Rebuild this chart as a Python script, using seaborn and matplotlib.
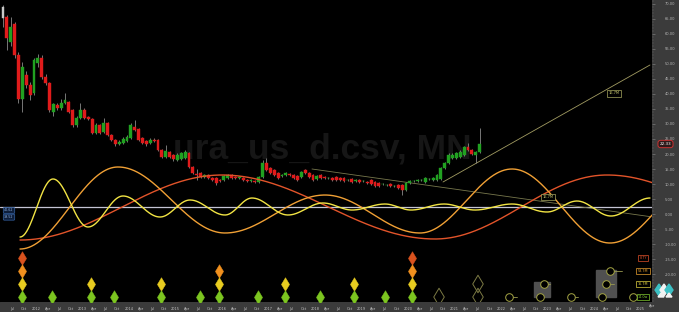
import numpy as np
import pandas as pd
import matplotlib
matplotlib.use("Agg")
import matplotlib.pyplot as plt
import seaborn as sns
from matplotlib.patches import Rectangle, Polygon

# ---------------- data ----------------
candle_start = 2011.29          # first monthly candle (Apr 2011), decimal years
opens = [69.0, 65.7, 57.3, 63.3, 53.0, 38.3, 46.3, 43.0, 40.3, 50.3, 52.0, 45.7, 43.7, 34.0, 36.3, 35.3,
         37.0, 37.3, 34.7, 29.7, 32.0, 34.7, 32.3, 31.7, 27.0, 29.7, 27.3, 30.3, 26.3, 24.7, 23.3, 23.7,
         24.3, 25.3, 29.0, 28.3, 25.3, 24.3, 23.7, 24.7, 24.7, 21.3, 19.0, 20.7, 19.7, 18.0, 18.3, 18.7,
         20.3, 15.7, 13.3, 13.7, 12.3, 13.0, 12.0, 12.0, 11.3, 11.3, 12.0, 13.0, 12.3, 12.0, 12.0, 11.3,
         11.0, 11.0, 10.7, 12.3, 17.0, 15.3, 14.7, 13.7, 12.7, 13.0, 13.3, 13.0, 12.7, 12.3, 14.7, 13.7,
         13.0, 11.7, 13.0, 12.3, 12.0, 12.0, 12.3, 12.0, 12.0, 11.3, 11.7, 11.0, 11.3, 11.0, 10.7, 11.3,
         10.7, 10.3, 10.0, 9.7, 10.0, 9.3, 9.7, 9.7, 8.0, 10.3, 11.0, 11.0, 11.3, 10.7, 11.7, 11.3,
         11.3, 11.7, 15.3, 17.0, 18.7, 18.7, 19.0, 19.7, 22.3, 21.3, 19.7, 20.7]
closes = [65.3, 58.7, 62.3, 53.0, 38.3, 49.0, 43.0, 39.7, 51.3, 52.0, 45.7, 43.7, 34.7, 36.7, 35.3, 37.0,
          38.0, 34.0, 29.7, 32.0, 34.7, 32.0, 31.7, 27.0, 29.7, 27.0, 30.3, 26.3, 24.7, 23.3, 24.0, 25.0,
          25.7, 29.7, 28.0, 24.7, 23.7, 23.3, 24.7, 24.3, 21.3, 19.0, 21.0, 19.0, 18.3, 19.7, 20.3, 20.7,
          15.7, 13.7, 13.0, 12.3, 13.0, 12.0, 11.3, 10.3, 11.0, 12.7, 13.0, 12.0, 12.0, 12.3, 11.3, 11.0,
          11.2, 10.7, 12.3, 17.0, 14.7, 13.7, 13.0, 12.0, 13.0, 13.7, 13.0, 12.0, 11.3, 14.0, 13.7, 12.3,
          11.3, 12.7, 12.0, 12.0, 12.1, 11.3, 11.3, 11.3, 11.0, 11.4, 10.7, 11.3, 10.7, 11.1, 10.3, 10.0,
          9.3, 9.3, 10.1, 9.8, 9.3, 9.4, 8.7, 8.0, 10.3, 11.0, 11.1, 11.3, 11.4, 12.0, 11.8, 12.0,
          13.0, 15.3, 17.0, 19.7, 19.7, 20.3, 20.7, 22.3, 21.3, 20.0, 20.7, 23.3]
highs = [69.7, 66.3, 65.7, 64.0, 54.0, 50.7, 47.5, 44.0, 52.0, 53.3, 53.0, 46.5, 44.0, 37.0, 37.0, 38.3,
         40.3, 37.8, 35.0, 32.5, 37.0, 35.2, 32.8, 32.0, 30.2, 30.0, 32.0, 30.7, 26.7, 25.0, 24.5, 25.5,
         26.2, 30.2, 31.3, 28.7, 25.7, 24.7, 25.2, 25.2, 25.0, 21.7, 23.0, 21.0, 20.0, 20.2, 20.8, 21.3,
         20.7, 16.0, 15.0, 14.0, 13.5, 13.3, 12.3, 12.3, 11.7, 13.0, 13.5, 13.3, 12.7, 12.7, 12.3, 11.7,
         11.6, 11.3, 12.7, 18.0, 18.7, 15.7, 15.0, 14.0, 13.3, 14.0, 13.7, 13.3, 13.0, 14.5, 15.0, 14.0,
         13.3, 13.0, 13.3, 12.7, 12.5, 12.3, 12.7, 12.3, 12.3, 11.7, 12.0, 11.7, 11.7, 11.4, 11.0, 11.7,
         11.0, 10.7, 10.4, 10.1, 10.3, 9.7, 10.0, 10.0, 10.7, 11.3, 11.4, 11.7, 11.7, 12.3, 12.1, 12.3,
         13.3, 15.7, 17.5, 20.2, 20.2, 20.8, 21.2, 22.8, 23.7, 21.7, 21.0, 28.7]
lows = [62.3, 54.7, 56.0, 52.0, 37.0, 34.0, 42.0, 38.0, 39.5, 49.0, 45.0, 43.0, 34.0, 32.7, 34.5, 34.8,
        36.5, 33.5, 29.0, 29.0, 31.5, 31.5, 31.2, 26.5, 26.5, 26.5, 27.0, 26.0, 24.2, 22.8, 23.0, 23.3,
        24.0, 25.0, 27.7, 24.3, 23.3, 22.8, 23.3, 24.0, 21.0, 18.7, 18.7, 18.7, 17.8, 17.7, 18.0, 18.3,
        15.3, 13.3, 11.5, 12.0, 12.0, 11.7, 11.0, 9.7, 10.7, 11.0, 11.7, 11.7, 11.7, 11.7, 11.0, 10.7,
        10.7, 10.3, 10.3, 12.0, 14.3, 13.3, 12.7, 11.7, 12.3, 12.7, 12.7, 11.7, 11.0, 12.0, 13.3, 12.0,
        11.0, 11.3, 11.7, 11.7, 11.7, 11.0, 11.0, 11.0, 10.7, 11.0, 10.3, 10.7, 10.3, 10.7, 10.0, 9.7,
        9.0, 9.0, 9.7, 9.4, 9.0, 9.0, 8.3, 6.3, 7.7, 10.0, 10.7, 10.7, 11.0, 10.3, 11.4, 11.0,
        11.0, 11.3, 15.0, 16.7, 18.3, 18.3, 18.7, 19.3, 21.0, 19.7, 17.0, 20.3]

# cycle turning points (decimal year, value)
yellow_t = [2011.656, 2012.366, 2013.118, 2013.871, 2014.667, 2015.312, 2016.065, 2016.645, 2017.419,
            2018.172, 2018.796, 2019.505, 2020.065, 2020.774, 2021.441, 2022.237, 2022.989, 2023.634,
            2024.366, 2025.204]
yellow_v = [-7.67, 11.67, -4.33, 6.0, -1.0, 4.67, -0.33, 5.33, -0.33, 3.67, 1.33, 3.33, 1.33, 3.33,
            1.33, 3.33, 0.67, 4.33, -0.67, 5.33]
orange_t = [2011.656, 2013.763, 2016.065, 2018.215, 2020.258, 2022.237, 2024.344, 2026.387]
orange_v = [-11.67, 15.67, -6.33, 6.33, -6.33, 15.0, -9.67, 13.0]
red_t = [2011.656, 2016.0, 2020.581, 2024.28, 2028.645]
red_v = [-8.67, 13.0, -8.33, 13.0, -8.67]

# cycle trough markers
rows = {"red": -14.67, "orange": -19.0, "yellow": -23.33, "green": -27.67}
diam_red = [2011.699, 2020.086]
diam_orange = [2011.699, 2015.935, 2020.086]
diam_yellow = [2011.699, 2013.183, 2014.688, 2015.935, 2017.355, 2018.839, 2020.086]
diam_green = [2011.699, 2012.344, 2013.183, 2013.677, 2014.688, 2015.527, 2015.935, 2016.774,
              2017.355, 2018.108, 2018.839, 2019.505, 2020.086]
hollow_green = [2020.667, 2021.505]
hollow_yellow = [2021.505]
proj_green = [2022.172, 2022.839, 2023.505, 2024.172, 2024.839]
proj_yellow = [2022.925, 2024.258]
proj_orange = [2024.344]

trend1_t = [2020.753, 2025.204]
trend1_v = [10.67, 49.67]
trend2_t = [2017.935, 2025.204]
trend2_v = [15.0, -0.87]
hline_v = 2.33
last_price = "22.33"
cycle_labels = ["8.7Y", "53.7M", "16.7M", "14.0w"]

# ---------------- figure ----------------
W, H = 679, 312
sns.set_theme(style="dark")
plt.rcParams['font.family'] = ['DejaVu Sans']
BG = '#3b3b3b'
fig = plt.figure(figsize=(W / 100, H / 100), dpi=100, facecolor='black')
PXR, PXB = 652, 302
ax = fig.add_axes([0, (H - PXB) / H, PXR / W, PXB / H])
ax.set_facecolor('black')
X0, X1 = 2011.226, 2025.247
Y0, Y1 = -29.33, 71.33
ax.set_xlim(X0, X1)
ax.set_ylim(Y0, Y1)
for s in ax.spines.values():
    s.set_visible(False)
ax.grid(False)

fig.add_artist(Rectangle((PXR / W, 0), 1 - PXR / W, 1, transform=fig.transFigure,
                         color=BG, zorder=-1))
fig.add_artist(Rectangle((0, 0), 1, (H - PXB) / H, transform=fig.transFigure,
                         color=BG, zorder=-1))

def px(x, y):
    return X0 + x / PXR * (X1 - X0), Y1 - y / PXB * (Y1 - Y0)

# watermark
ax.text(322 / PXR, 1 - 158 / PXB, "ura_us_d.csv, MN", transform=ax.transAxes,
        family='Liberation Sans', weight='bold', fontsize=25.5, color='#161616',
        ha='center', va='baseline', zorder=1)

# candles
n = len(opens)
t = candle_start + np.arange(n) / 12.0
o = np.array(opens); c = np.array(closes)
cols = ['#21a121' if cc >= oo else '#e01b1b' for oo, cc in zip(o, c)]
cols[0] = '#c8c8c8'
ax.vlines(t, lows, highs, color='#8a8a8a', lw=0.6, zorder=3)
ax.bar(t, c - o, bottom=o, width=0.062, color=cols, edgecolor=cols, lw=0.3, zorder=3.5)

# horizontal line
ax.axhline(hline_v, color='#c4c4d4', lw=0.9, zorder=2)

# trend lines
ax.plot(trend1_t, trend1_v, color='#a29c62', lw=0.6, zorder=2.5)
ax.plot(trend2_t, trend2_v, color='#77774c', lw=0.6, zorder=2.5)

# cycles
def curve(tx, vy):
    tx = np.asarray(tx); vy = np.asarray(vy)
    grid = np.linspace(tx[0], min(tx[-1], X1 + 0.05), 1200)
    k = np.clip(np.searchsorted(tx, grid, side='right') - 1, 0, len(tx) - 2)
    f = (grid - tx[k]) / (tx[k + 1] - tx[k])
    return grid, vy[k] + (vy[k + 1] - vy[k]) * (1 - np.cos(np.pi * f)) / 2

for tx, vy, col in [(red_t, red_v, '#e2542a'), (orange_t, orange_v, '#f0a035'),
                    (yellow_t, yellow_v, '#f2e444')]:
    gx, gy = curve(tx, vy)
    sns.lineplot(x=gx, y=gy, ax=ax, color=col, lw=1.0, zorder=4, estimator=None, sort=False)

# diamonds
for lst, row, col in [(diam_red, "red", '#d9521e'), (diam_orange, "orange", '#f0901e'),
                      (diam_yellow, "yellow", '#e8cc20'), (diam_green, "green", '#7cc520')]:
    sns.scatterplot(x=lst, y=[rows[row]] * len(lst), ax=ax, marker='d', s=48,
                    color=col, edgecolor=col, linewidth=0.3, zorder=5)
for lst, row in [(hollow_green, "green"), (hollow_yellow, "yellow")]:
    ax.scatter(lst, [rows[row]] * len(lst), marker='d', s=80, facecolor='none',
               edgecolor='#7c7a44', linewidths=0.7, zorder=5)

# projection boxes & circles
mw = 0.13
ax.add_patch(Rectangle((proj_green[1] - mw, rows["green"]), proj_yellow[0] - proj_green[1] + 2 * mw,
                       rows["yellow"] - rows["green"] + 0.5, color='#505050', zorder=4.5))
ax.add_patch(Rectangle((proj_green[3] - mw, rows["green"]), proj_orange[0] - proj_green[3] + 2 * mw,
                       rows["orange"] - rows["green"] + 0.5, color='#505050', zorder=4.5))
tails = [(proj_green[0], rows["green"], 0.17), (proj_green[2], rows["green"], 0.15),
         (proj_yellow[0], rows["yellow"], 0.12), (proj_yellow[1], rows["yellow"], 0.17),
         (proj_orange[0], rows["orange"], 0.26)]
for tx0, ry, ln in tails:
    ax.plot([tx0, tx0 + ln], [ry, ry], color='#9a9a50', lw=0.6, zorder=5)
for lst, row in [(proj_green, "green"), (proj_yellow, "yellow"), (proj_orange, "orange")]:
    ax.scatter(lst, [rows[row]] * len(lst), marker='o', s=30, facecolor='black',
               edgecolor='#a4a444', linewidths=0.7, zorder=6)

# cycle labels at right
for lab, row, col in zip(cycle_labels, ["red", "orange", "yellow", "green"],
                         ['#e0502a', '#e8a030', '#e0d040', '#80c830']):
    ax.text(px(643, 0)[0], rows[row], lab, fontsize=2.4, color=col, ha='center', va='center',
            zorder=7, bbox=dict(boxstyle='square,pad=0.4', facecolor='black', edgecolor=col, lw=0.5))

# trendline labels
for (xx, yy) in [(614, 93.5), (548, 197)]:
    ax.text(*px(xx, yy), "16.7M", fontsize=2.6, color='#c8c870', ha='center', va='center', zorder=7,
            bbox=dict(boxstyle='square,pad=0.35', facecolor='black', edgecolor='#a8a860', lw=0.5))

# left value boxes
for (yy, lab) in [(210.5, "40.62"), (217.2, "39.52")]:
    ax.text(*px(9, yy), lab, fontsize=2.3, color='#8fb0e0', ha='center', va='center', zorder=7,
            bbox=dict(boxstyle='round,pad=0.3', facecolor='#0e1e3a', edgecolor='#3462a4', lw=0.5))

# y axis on right
ax.yaxis.tick_right()
yt = list(range(-20, 71, 5))
ax.set_yticks(yt)
ax.set_yticklabels([f"{v:.2f}" for v in yt])
ax.set_yticks(np.arange(-29, 72, 1), minor=True)
ax.tick_params(axis='y', which='major', colors='#8a8a8a', labelcolor='#b5b5b5', labelsize=2.6,
               length=2, width=0.4, pad=7, direction='out')
ax.tick_params(axis='y', which='minor', colors='#6a6a6a', length=1.2, width=0.3, direction='out')

# x axis
xt, xl = [], []
names = {1: "Apr", 2: "Jul", 3: "Oct"}
for yr in range(2011, 2026):
    for q in range(4):
        pos = yr + q * 0.25
        if 2011.4 <= pos <= 2025.2:
            xt.append(pos)
            xl.append(str(yr) if q == 0 else names[q])
ax.set_xticks(xt)
ax.set_xticklabels(xl)
ax.set_xticks(np.arange(2011.25, 2025.2, 1 / 12), minor=True)
ax.tick_params(axis='x', which='major', colors='#8a8a8a', labelcolor='#c4c4c4', labelsize=2.5,
               length=1.5, width=0.4, pad=2.2, direction='out')
ax.tick_params(axis='x', which='minor', colors='#6a6a6a', length=1.0, width=0.3, direction='out')
ax.set_xlim(X0, X1)
# last quarter label sits just past the plotting area
fig.text(652 / W, 1 - 306.5 / H, "Apr", fontsize=2.5, color='#c4c4c4', ha='center', va='center')

# last price label
fig.text(665.5 / W, 1 - 144 / H, last_price, fontsize=3.0, color='white', ha='center', va='center',
         bbox=dict(boxstyle='round,pad=0.4,rounding_size=0.6', facecolor='#2e1a1a', edgecolor='#c83232', lw=0.7))

# logo
def fpoly(pts, col):
    fig.add_artist(Polygon([(x / W, 1 - y / H) for x, y in pts], closed=True,
                           transform=fig.transFigure, color=col, zorder=3))
fpoly([(655, 290), (659, 284), (663, 290), (659, 296)], '#3cc0c4')
fpoly([(660, 290), (664, 284), (668, 290), (664, 296)], '#f2f2f2')
fpoly([(665, 290), (669, 284), (673, 290), (669, 296)], '#3cc0c4')
fpoly([(658, 297), (661, 293), (664, 297)], '#f2f2f2')
fpoly([(666, 297), (669, 293), (672, 297)], '#f2f2f2')

fig.savefig("out.png", dpi=100, facecolor='black')
